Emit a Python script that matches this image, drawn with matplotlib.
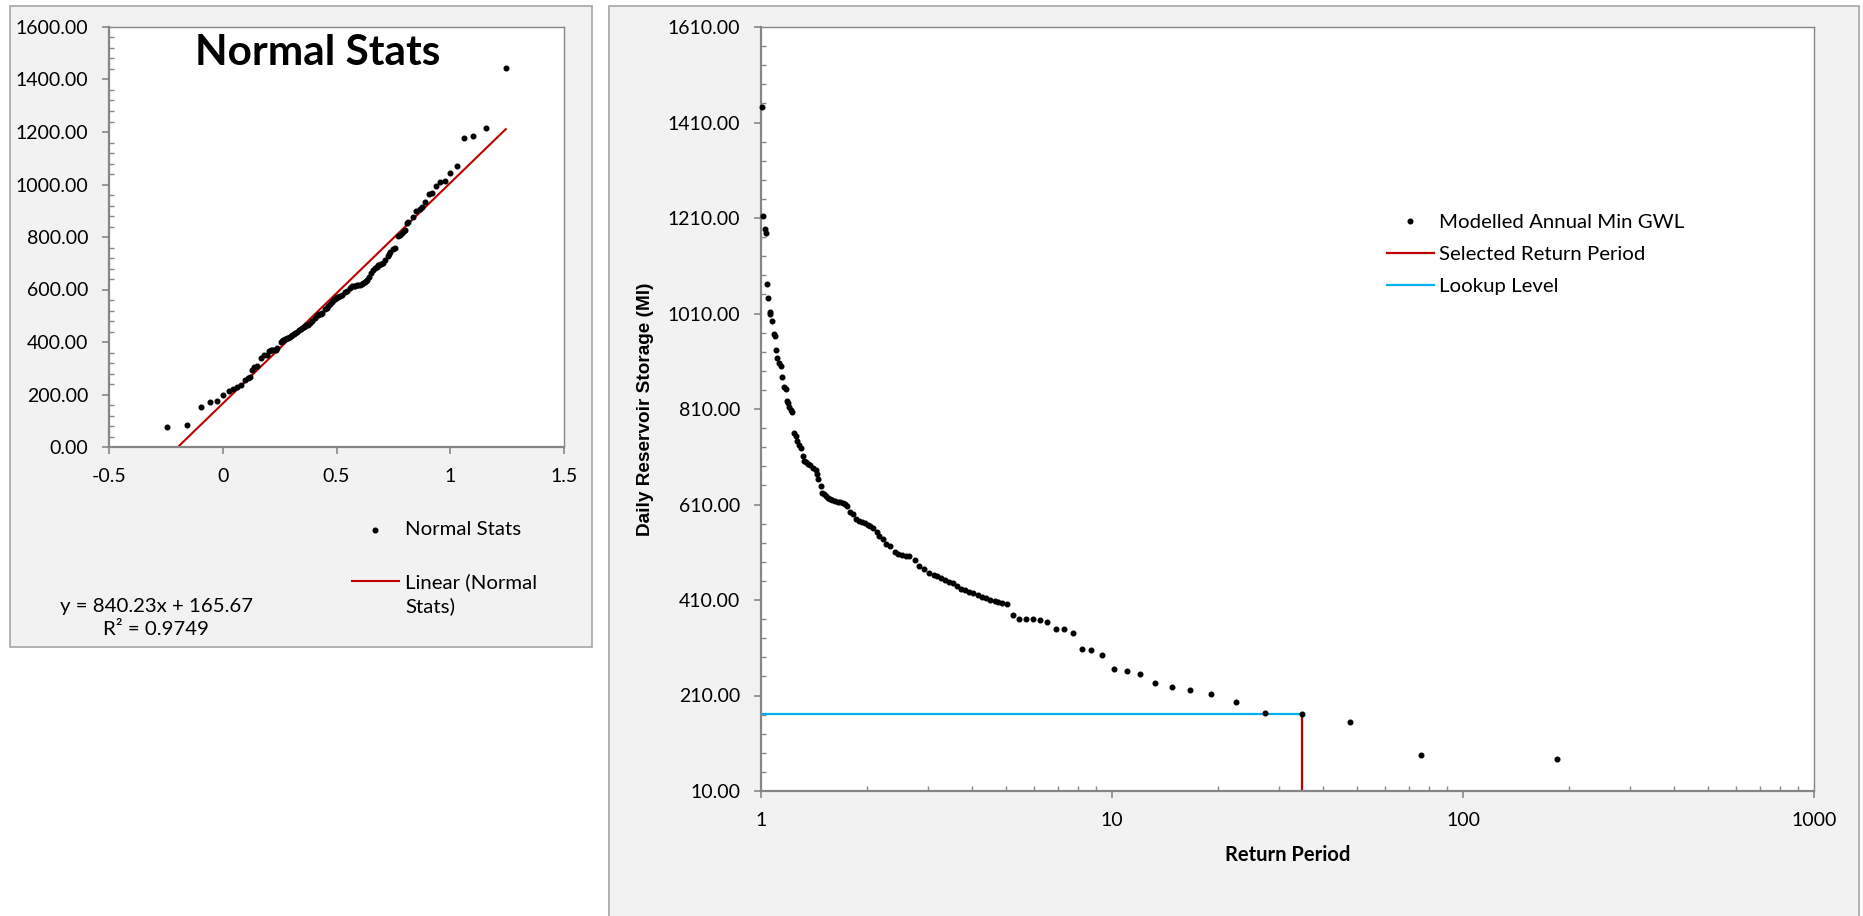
import matplotlib.pyplot as plt
from matplotlib.lines import Line2D
from matplotlib.patches import Rectangle
from matplotlib.legend_handler import HandlerLine2D
from matplotlib.ticker import FixedLocator, LogLocator, NullFormatter, FormatStrFormatter
import numpy as np

plt.rcParams['font.family'] = ['Lato', 'DejaVu Sans']

# annual minimum storage, largest first (same values in both charts)
storage = [
    1442, 1215, 1186, 1178, 1072, 1042, 1013, 1009, 994, 968,
    962, 934, 916, 906, 900, 878, 857, 852, 827, 823,
    815, 808, 804, 760, 753, 742, 735, 728, 712, 702,
    698, 695, 693, 686, 682, 673, 663, 649, 635, 631,
    627, 624, 621, 619, 617, 616, 615, 614, 612, 607,
    594, 591, 579, 576, 573, 571, 567, 564, 560, 552,
    545, 537, 528, 524, 510, 507, 505, 503, 502, 493,
    481, 474, 466, 463, 460, 456, 452, 448, 445, 440,
    433, 431, 427, 424, 420, 417, 414, 410, 408, 406,
    404, 401, 379, 371, 371, 370, 369, 364, 350, 350,
    340, 307, 306, 295, 265, 261, 256, 236, 227, 221,
    214, 197, 174, 170.5, 154, 85, 78,
]

return_period = [
    1.009, 1.015, 1.024, 1.035, 1.040, 1.049, 1.058, 1.063, 1.075, 1.088,
    1.096, 1.102, 1.110, 1.125, 1.137, 1.147, 1.165, 1.176, 1.184, 1.194,
    1.204, 1.215, 1.228, 1.242, 1.256, 1.269, 1.283, 1.297, 1.314, 1.329,
    1.346, 1.364, 1.382, 1.409, 1.432, 1.444, 1.457, 1.479, 1.495, 1.512,
    1.529, 1.549, 1.572, 1.597, 1.625, 1.655, 1.683, 1.710, 1.736, 1.758,
    1.790, 1.826, 1.861, 1.901, 1.943, 1.979, 2.014, 2.049, 2.091, 2.135,
    2.171, 2.223, 2.275, 2.337, 2.401, 2.457, 2.523, 2.584, 2.645, 2.744,
    2.828, 2.914, 3.002, 3.105, 3.179, 3.265, 3.353, 3.432, 3.526, 3.609,
    3.707, 3.819, 3.923, 4.029, 4.152, 4.265, 4.380, 4.499, 4.637, 4.746,
    4.875, 5.007, 5.212, 5.425, 5.685, 5.957, 6.222, 6.541, 6.923, 7.279,
    7.730, 8.212, 8.720, 9.385, 10.13, 11.02, 12.02, 13.28, 14.84, 16.68,
    19.19, 22.53, 27.35, 34.78, 47.6, 76.1, 185.0,
]

normal_x = [
    1.244, 1.157, 1.100, 1.059, 1.028, 1.000, 0.976, 0.956, 0.937, 0.921,
    0.907, 0.890, 0.878, 0.866, 0.851, 0.835, 0.815, 0.810, 0.803, 0.797,
    0.790, 0.781, 0.772, 0.757, 0.747, 0.737, 0.730, 0.725, 0.713, 0.703,
    0.695, 0.688, 0.682, 0.676, 0.670, 0.660, 0.652, 0.645, 0.636, 0.630,
    0.625, 0.618, 0.611, 0.603, 0.596, 0.589, 0.582, 0.576, 0.568, 0.559,
    0.545, 0.538, 0.523, 0.515, 0.508, 0.502, 0.497, 0.492, 0.486, 0.479,
    0.471, 0.464, 0.457, 0.450, 0.437, 0.430, 0.425, 0.419, 0.413, 0.404,
    0.393, 0.384, 0.375, 0.367, 0.362, 0.357, 0.350, 0.342, 0.336, 0.328,
    0.318, 0.313, 0.306, 0.300, 0.294, 0.288, 0.281, 0.275, 0.268, 0.264,
    0.260, 0.256, 0.240, 0.232, 0.224, 0.217, 0.211, 0.204, 0.195, 0.183,
    0.168, 0.149, 0.139, 0.129, 0.118, 0.110, 0.098, 0.079, 0.061, 0.044,
    0.027, 0.002, -0.024, -0.056, -0.097, -0.156, -0.244,
]

slope = 840.23
intercept = 165.67
r_squared = 0.9749
selected_rp = 34.78
lookup_level = 170.5

left_xticks = [-0.5, 0, 0.5, 1, 1.5]
left_xlabels = ['-0.5', '0', '0.5', '1', '1.5']
right_xticks = [1, 10, 100, 1000]
right_xlabels = ['1', '10', '100', '1000']

W, H = 1863, 916
GREY = '#868686'
RED = '#c00000'
BLUE = '#00b0f0'
FS = 14
LFS = 14.7

fig = plt.figure(figsize=(W / 100, H / 100), dpi=100)


def fx(px):
    return px / W


def fy(py):
    return 1 - py / H


class FirstLineHandler(HandlerLine2D):
    # Excel puts the legend key level with the first line of a wrapped label
    def __init__(self, shift, **kw):
        super().__init__(**kw)
        self.shift = shift

    def create_artists(self, legend, orig_handle, xdescent, ydescent, width,
                       height, fontsize, trans):
        arts = super().create_artists(legend, orig_handle, xdescent, ydescent,
                                      width, height, fontsize, trans)
        for a in arts:
            a.set_ydata(np.asarray(a.get_ydata()) + self.shift * fontsize)
        return arts


# chart area backgrounds
fig.patches.append(Rectangle((fx(9.5), fy(647)), (592 - 9.5) / W, (647 - 6) / H,
                             transform=fig.transFigure, facecolor='#f2f2f2',
                             edgecolor='#a6a6a6', lw=1.2, zorder=-10))
fig.patches.append(Rectangle((fx(609), fy(930)), (1859 - 609) / W, (930 - 6) / H,
                             transform=fig.transFigure, facecolor='#f2f2f2',
                             edgecolor='#a6a6a6', lw=1.2, zorder=-10))


def style_axes(ax):
    for side in ['top', 'right']:
        ax.spines[side].set_color(GREY)
        ax.spines[side].set_linewidth(1.0)
    for side in ['left', 'bottom']:
        ax.spines[side].set_color(GREY)
        ax.spines[side].set_linewidth(1.6)
    ax.tick_params(which='major', direction='out', length=5, width=1.2,
                   color=GREY, labelsize=FS, labelcolor='black')
    ax.tick_params(which='minor', direction='in', length=3.6, width=1.0, color=GREY)


# ---- left: Normal Stats ----
ax1 = fig.add_axes([fx(109), fy(447), (564 - 109) / W, (447 - 27) / H])
ax1.set_facecolor('white')
xs = np.array([min(normal_x), max(normal_x)])
trend, = ax1.plot(xs, slope * xs + intercept, color=RED, lw=1.5, zorder=2)
pts = ax1.scatter(normal_x, storage, s=11, color='black', zorder=3)
ax1.set_xlim(-0.5, 1.5)
ax1.set_ylim(0, 1600)
ax1.set_xticks(left_xticks)
ax1.set_xticklabels(left_xlabels)
ax1.set_yticks(np.arange(0, 1601, 200))
ax1.yaxis.set_major_formatter(FormatStrFormatter('%.2f'))
ax1.yaxis.set_minor_locator(FixedLocator(np.arange(0, 1601, 40)))
style_axes(ax1)
ax1.tick_params(axis='x', pad=10)
ax1.tick_params(axis='y', pad=10)

leg1 = ax1.legend([pts, trend], ['Normal Stats', 'Linear (Normal\nStats)'],
                  loc='upper left', bbox_to_anchor=(fx(352), fy(521)),
                  bbox_transform=fig.transFigure, frameon=False, fontsize=LFS,
                  handlelength=2.3, handletextpad=0.3, labelspacing=1.7,
                  borderpad=0, borderaxespad=0, scatterpoints=1,
                  handler_map={trend: FirstLineHandler(0.62)})
for t in leg1.get_texts():
    t.set_linespacing(1.45)

fig.text(fx(318), fy(53), 'Normal Stats', ha='center', va='center',
         fontsize=30.5, fontweight='bold')
fig.text(fx(156), fy(618), f'y = {slope}x + {intercept}\nR\u00b2 = {r_squared}',
         ha='center', va='center', fontsize=LFS, linespacing=1.4)

# ---- right: return period ----
ax2 = fig.add_axes([fx(761), fy(791), (1814 - 761) / W, (791 - 27) / H])
ax2.set_facecolor('white')
ax2.set_xscale('log')
ax2.plot([1, selected_rp], [lookup_level, lookup_level], color=BLUE, lw=1.6, zorder=2)
ax2.plot([selected_rp, selected_rp], [10, lookup_level], color=RED, lw=1.6, zorder=2)
ax2.scatter(return_period, storage, s=11, color='black', zorder=3, clip_on=False)
ax2.set_xlim(1, 1000)
ax2.set_ylim(10, 1610)
ax2.xaxis.set_major_locator(FixedLocator(right_xticks))
ax2.set_xticklabels(right_xlabels)
ax2.xaxis.set_minor_locator(LogLocator(base=10, subs=range(2, 10)))
ax2.xaxis.set_minor_formatter(NullFormatter())
ax2.set_yticks(np.arange(10, 1611, 200))
ax2.yaxis.set_major_formatter(FormatStrFormatter('%.2f'))
ax2.yaxis.set_minor_locator(FixedLocator(np.arange(10, 1611, 40)))
style_axes(ax2)
ax2.tick_params(axis='x', pad=10)
ax2.tick_params(axis='y', pad=10)

ax2.set_ylabel('Daily Reservoir Storage (Ml)', fontsize=13.7, fontweight='bold',
               family=['Liberation Sans', 'DejaVu Sans'])
ax2.yaxis.set_label_coords((645 - 761) / (1814 - 761), 0.5)
ax2.yaxis.label.set_va('center')
ax2.set_xlabel('Return Period', fontsize=14.5, fontweight='bold')
ax2.xaxis.set_label_coords(0.5, (791 - 855) / (791 - 27))
ax2.xaxis.label.set_va('center')

handles = [
    Line2D([], [], color='black', marker='o', markersize=3.3, linestyle='none'),
    Line2D([], [], color=RED, lw=1.6),
    Line2D([], [], color=BLUE, lw=1.6),
]
labels = ['Modelled Annual Min GWL', 'Selected Return Period', 'Lookup Level']
ax2.legend(handles, labels, loc='upper left', bbox_to_anchor=(fx(1387), fy(214)),
           bbox_transform=fig.transFigure, frameon=False, fontsize=LFS,
           handlelength=2.3, handletextpad=0.25, labelspacing=0.72,
           borderpad=0, borderaxespad=0)

fig.savefig('out.png', dpi=100, facecolor='white')
